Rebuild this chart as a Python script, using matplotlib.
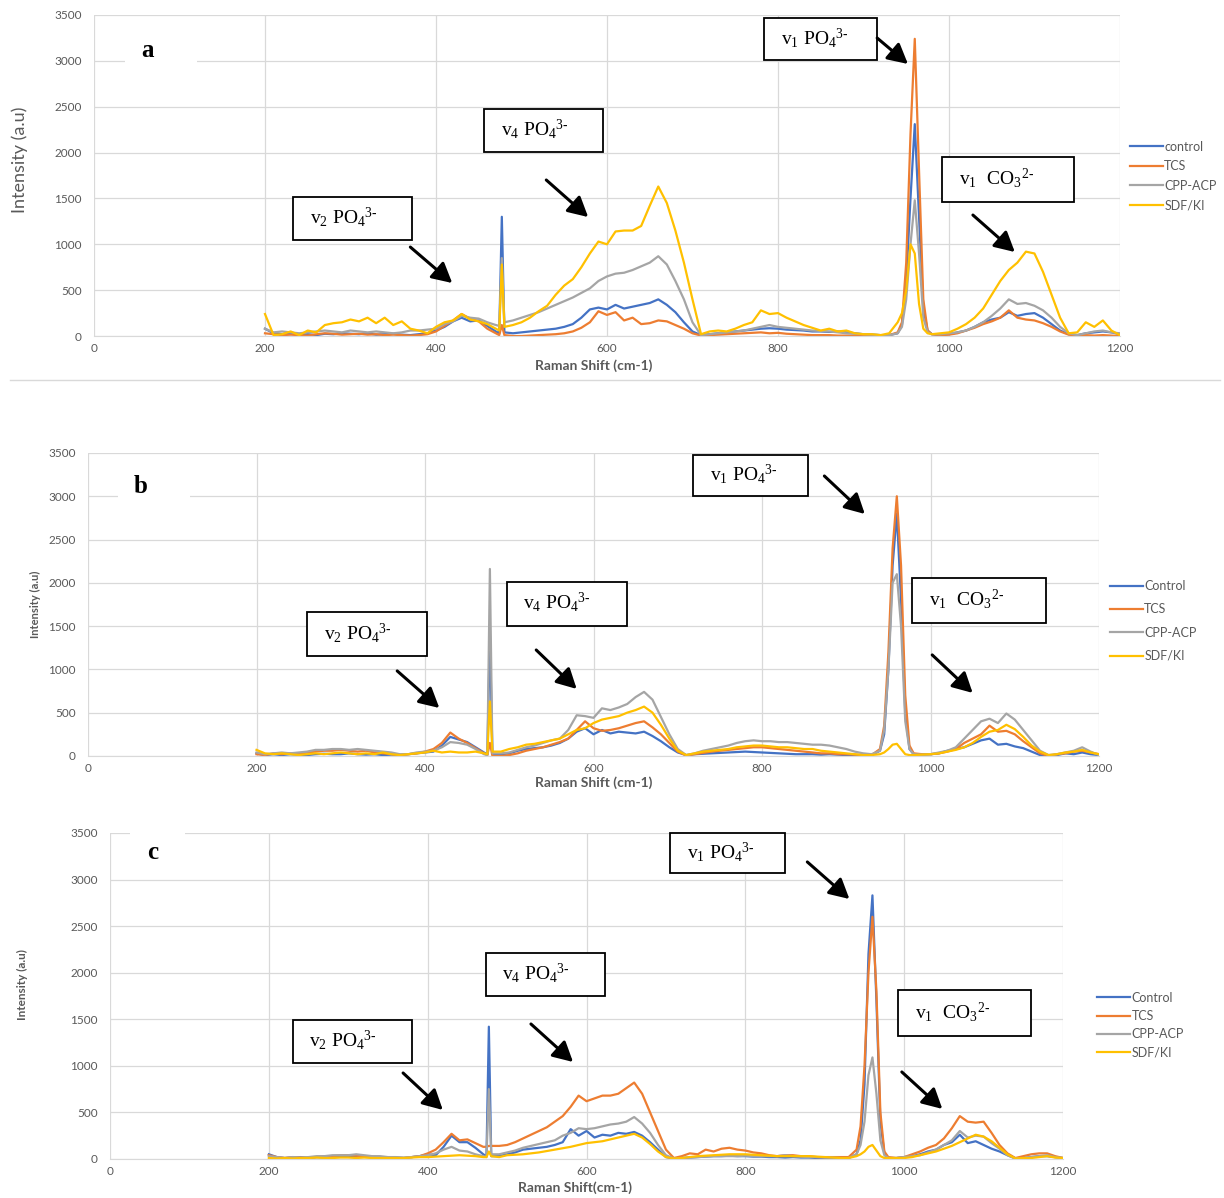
import matplotlib.pyplot as plt
from matplotlib.patches import Rectangle
from matplotlib.lines import Line2D

plt.rcParams['font.family'] = ['Lato', 'DejaVu Sans']
plt.rcParams['mathtext.fontset'] = 'custom'
plt.rcParams['mathtext.rm'] = 'Liberation Serif'

# Raman shift grid (cm-1), shared by every spectrum
shift = [200, 210, 220, 230, 240, 250, 260, 270, 280, 290,
         300, 310, 320, 330, 340, 350, 360, 370, 380, 390,
         400, 410, 420, 430, 440, 450, 460, 470, 474, 477,
         480, 490, 500, 510, 520, 530, 540, 550, 560, 570,
         580, 590, 600, 610, 620, 630, 640, 650, 660, 670,
         680, 690, 700, 710, 720, 730, 740, 750, 760, 770,
         780, 790, 800, 810, 820, 830, 840, 850, 860, 870,
         880, 890, 900, 910, 920, 930, 940, 945, 950, 955,
         960, 965, 970, 975, 980, 990, 1000, 1010, 1020, 1030,
         1040, 1050, 1060, 1070, 1080, 1090, 1100, 1110, 1120, 1130,
         1140, 1150, 1160, 1170, 1180, 1190, 1200]

# ---- panel a ----
a_control = [80, 30, 20, 30, 15, 20, 10, 25, 20, 30,
             25, 20, 30, 15, 20, 25, 15, 10, 20, 30,
             60, 100, 160, 200, 160, 170, 110, 50, 30, 1300,
             40, 30, 40, 50, 60, 70, 80, 100, 130, 200,
             290, 310, 290, 340, 300, 320, 340, 360, 400, 340,
             260, 150, 50, 10, 20, 30, 40, 50, 60, 70,
             80, 85, 80, 70, 65, 60, 50, 50, 45, 50,
             40, 30, 20, 15, 10, 10, 30, 120, 600, 1500,
             2310, 1300, 300, 60, 20, 10, 20, 40, 60, 100,
             150, 180, 200, 260, 220, 240, 250, 200, 130, 60,
             20, 10, 30, 40, 50, 40, 20]
a_tcs = [30, 20, 10, 15, 10, 5, 20, 30, 25, 15,
         20, 25, 15, 20, 10, 15, 10, 5, 10, 20,
         50, 110, 170, 240, 190, 160, 80, 30, 10, 120,
         10, 0, 0, 5, 10, 15, 20, 30, 50, 90,
         150, 270, 230, 260, 170, 200, 130, 140, 170, 160,
         120, 80, 30, 5, 10, 15, 20, 25, 30, 35,
         40, 30, 35, 25, 20, 15, 10, 10, 10, 5,
         5, 5, 5, 5, 5, 10, 40, 150, 800, 2200,
         3240, 1800, 400, 60, 20, 10, 15, 30, 60, 90,
         130, 160, 200, 280, 200, 180, 170, 140, 100, 50,
         15, 5, 10, 5, 10, 5, 0]
a_cpp = [80, 40, 50, 40, 30, 40, 50, 60, 50, 40,
         60, 50, 40, 50, 40, 30, 40, 60, 60, 70,
         80, 130, 160, 220, 200, 190, 150, 120, 110, 850,
         150, 170, 200, 230, 260, 300, 340, 380, 420, 470,
         520, 600, 650, 680, 690, 720, 760, 800, 870, 780,
         600, 400, 150, 10, 20, 30, 40, 50, 60, 80,
         100, 120, 100, 90, 80, 70, 60, 55, 50, 40,
         30, 25, 20, 15, 10, 10, 30, 100, 400, 1000,
         1480, 900, 200, 40, 20, 20, 30, 40, 60, 100,
         150, 220, 300, 400, 350, 360, 330, 280, 200, 100,
         30, 10, 30, 50, 60, 40, 30]
a_sdf = [240, 10, 20, 50, 10, 60, 40, 120, 140, 150,
         180, 160, 200, 140, 200, 120, 160, 80, 60, 30,
         100, 150, 170, 240, 180, 160, 130, 80, 60, 780,
         100, 120, 150, 200, 270, 330, 450, 550, 620, 750,
         900, 1030, 1000, 1140, 1150, 1150, 1200, 1420, 1630, 1450,
         1150, 800, 400, 20, 50, 60, 50, 80, 120, 150,
         280, 240, 250, 200, 160, 120, 90, 60, 80, 50,
         60, 30, 20, 20, 10, 30, 150, 250, 500, 1000,
         900, 350, 80, 30, 20, 30, 40, 80, 130, 200,
         300, 450, 600, 720, 800, 920, 900, 700, 450, 200,
         30, 40, 150, 100, 170, 60, 10]

# ---- panel b ----
b_control = [30, 10, 20, 10, 20, 15, 10, 20, 25, 20,
             20, 30, 20, 15, 20, 10, 15, 10, 20, 30,
             40, 50, 120, 220, 190, 160, 100, 40, 20, 1420,
             20, 20, 30, 60, 80, 90, 100, 120, 150, 200,
             280, 320, 250, 300, 260, 280, 270, 260, 280, 230,
             170, 100, 40, 10, 20, 25, 30, 35, 40, 45,
             50, 45, 40, 35, 30, 25, 20, 20, 20, 15,
             20, 15, 10, 10, 10, 10, 60, 250, 1000, 2200,
             2800, 1800, 500, 80, 20, 15, 20, 30, 60, 80,
             100, 140, 180, 200, 130, 140, 110, 90, 50, 10,
             0, 10, 30, 20, 40, 20, 10]
b_tcs = [20, 10, 30, 20, 30, 20, 40, 50, 60, 60,
         70, 60, 50, 60, 40, 30, 20, 10, 20, 30,
         50, 80, 150, 270, 200, 150, 90, 30, 10, 150,
         0, 0, 10, 30, 60, 80, 100, 130, 160, 200,
         300, 400, 320, 290, 300, 320, 350, 380, 400, 330,
         250, 150, 50, 5, 20, 35, 50, 60, 70, 80,
         90, 100, 100, 90, 80, 70, 60, 50, 40, 30,
         30, 20, 20, 15, 10, 10, 80, 350, 1200, 2400,
         3000, 2200, 700, 120, 30, 20, 20, 30, 50, 80,
         150, 200, 250, 350, 280, 290, 250, 170, 100, 30,
         0, 20, 30, 50, 60, 40, 20]
b_cpp = [40, 20, 30, 40, 30, 40, 50, 70, 70, 80,
         80, 70, 80, 70, 60, 50, 40, 20, 20, 40,
         50, 60, 100, 160, 150, 130, 80, 20, 10, 2160,
         30, 30, 40, 70, 100, 120, 150, 180, 200, 300,
         470, 460, 440, 550, 530, 560, 600, 680, 740, 650,
         450, 250, 80, 10, 30, 60, 80, 100, 120, 150,
         170, 180, 170, 170, 160, 160, 150, 140, 130, 130,
         120, 100, 80, 50, 30, 20, 60, 300, 1000, 2000,
         2100, 1500, 400, 80, 20, 15, 20, 40, 60, 100,
         200, 300, 400, 430, 380, 490, 420, 300, 180, 60,
         10, 20, 40, 60, 100, 50, 10]
b_sdf = [70, 30, 20, 30, 20, 10, 20, 30, 20, 30,
         40, 30, 20, 30, 20, 40, 20, 10, 20, 30,
         40, 60, 40, 50, 40, 40, 50, 30, 20, 630,
         50, 50, 80, 100, 130, 140, 160, 180, 200, 250,
         300, 320, 380, 420, 440, 460, 500, 530, 570, 500,
         360, 200, 60, 10, 30, 50, 60, 70, 80, 100,
         110, 120, 120, 110, 100, 100, 90, 80, 80, 60,
         50, 40, 30, 20, 10, 10, 20, 40, 80, 130,
         140, 80, 20, 10, 10, 15, 20, 30, 50, 70,
         100, 150, 220, 280, 300, 360, 310, 220, 120, 50,
         10, 20, 40, 50, 70, 40, 20]

# ---- panel c ----
c_control = [50, 20, 10, 15, 20, 10, 20, 15, 20, 25,
             30, 20, 25, 20, 15, 10, 15, 10, 20, 30,
             50, 40, 130, 250, 180, 180, 120, 50, 30, 1420,
             30, 30, 50, 70, 100, 110, 120, 130, 150, 180,
             320, 250, 300, 230, 260, 250, 280, 270, 290, 250,
             180, 100, 20, 5, 10, 15, 20, 25, 30, 30,
             35, 30, 30, 25, 25, 20, 20, 15, 20, 15,
             15, 10, 10, 10, 10, 10, 50, 200, 800, 2200,
             2830, 1700, 400, 60, 10, 10, 20, 30, 50, 80,
             100, 150, 180, 260, 170, 190, 150, 110, 80, 40,
             5, 10, 20, 30, 30, 20, 10]
c_tcs = [40, 20, 10, 20, 15, 10, 20, 30, 30, 40,
         40, 35, 30, 25, 20, 15, 10, 10, 20, 30,
         60, 100, 180, 270, 200, 210, 170, 130, 130, 140,
         140, 140, 150, 180, 220, 260, 300, 340, 400, 460,
         560, 680, 620, 650, 680, 680, 700, 760, 820, 700,
         500, 300, 100, 10, 30, 60, 50, 100, 80, 110,
         120, 100, 90, 70, 60, 40, 30, 40, 40, 30,
         30, 20, 20, 20, 20, 20, 100, 350, 1000, 2000,
         2600, 1800, 500, 80, 20, 10, 20, 50, 80, 120,
         150, 220, 330, 460, 400, 390, 400, 280, 150, 60,
         10, 30, 50, 60, 60, 30, 10]
c_cpp = [30, 20, 10, 20, 15, 20, 30, 30, 40, 40,
         40, 50, 40, 30, 30, 20, 20, 15, 20, 30,
         40, 60, 100, 130, 90, 80, 50, 30, 20, 750,
         50, 50, 70, 90, 120, 140, 160, 180, 200, 250,
         280, 330, 320, 330, 350, 370, 380, 400, 450, 380,
         280, 150, 40, 5, 10, 15, 20, 25, 30, 30,
         30, 30, 35, 30, 30, 30, 30, 40, 30, 25,
         20, 20, 15, 15, 10, 10, 50, 150, 400, 900,
         1090, 700, 200, 40, 10, 10, 20, 30, 40, 70,
         100, 150, 200, 300, 230, 250, 240, 170, 110, 40,
         5, 10, 20, 30, 40, 20, 10]
c_sdf = [10, 5, 10, 5, 10, 10, 15, 10, 10, 15,
         15, 10, 15, 10, 10, 10, 10, 10, 15, 20,
         20, 25, 30, 35, 40, 35, 30, 20, 20, 80,
         30, 20, 40, 45, 50, 60, 70, 85, 100, 115,
         130, 150, 170, 180, 190, 210, 230, 250, 270, 230,
         160, 80, 20, 5, 10, 20, 30, 35, 40, 45,
         50, 50, 50, 45, 40, 35, 30, 30, 30, 30,
         30, 25, 20, 15, 10, 10, 30, 50, 80, 130,
         150, 90, 30, 10, 10, 10, 10, 20, 40, 60,
         80, 110, 140, 180, 220, 260, 240, 190, 120, 50,
         5, 10, 10, 20, 30, 15, 10]

names_a = ['control', 'TCS', 'CPP-ACP', 'SDF/KI']
names_bc = ['Control', 'TCS', 'CPP-ACP', 'SDF/KI']
colors = ['#4472C4', '#ED7D31', '#A5A5A5', '#FFC000']

band_labels = ['$\\mathregular{v_2\\;PO_4{}^{3\u2010}}$', '$\\mathregular{v_4\\;PO_4{}^{3\u2010}}$',
               '$\\mathregular{v_1\\;PO_4{}^{3\u2010}}$', '$\\mathregular{v_1\\;\\;CO_3{}^{2\u2010}}$']

# box (x0, y0, x1, y1) and arrow (tail, head) for each band, data units
boxes_a = [(233, 1047, 372, 1516), (456, 2006, 595, 2475), (784, 3009, 916, 3467), (992, 1461, 1146, 1952)]
arrows_a = [((370, 970), (419, 578)), ((529, 1701), (578, 1297)), ((916, 3249), (952, 2966)), ((1028, 1319), (1077, 916))]
boxes_b = [(260, 1155, 402, 1663), (497, 1502, 640, 2010), (718, 3003, 855, 3477), (978, 1536, 1137, 2056)]
arrows_b = [((367, 982), (417, 554)), ((532, 1224), (580, 774)), ((874, 3234), (922, 2795)), ((1002, 1167), (1050, 728))]
boxes_c = [(230, 1031, 380, 1492), (473, 1750, 623, 2212), (705, 3070, 850, 3500), (992, 1321, 1160, 1814)]
arrows_c = [((369, 923), (419, 526)), ((530, 1449), (583, 1041)), ((878, 3189), (931, 2791)), ((997, 934), (1048, 537))]

fig = plt.figure(figsize=(12.24, 11.98), dpi=100)

panels = [
    dict(rect=[0.0768, 0.7195, 0.8382, 0.2680], data=[a_control, a_tcs, a_cpp, a_sdf], names=names_a,
         boxes=boxes_a, arrows=arrows_a, letter='a', letter_xy=(63, 3118), letter_bg=(36, 2870, 84, 430),
         xlabel='Raman Shift (cm-1)', xl=(0.487, -0.093), yl=(-0.072, 0.548), ysize=13, yweight='normal',
         leg=(1130 / 1224, 1 - 176 / 1198), legspace=0.6),
    dict(rect=[0.0719, 0.3690, 0.8260, 0.2529], data=[b_control, b_tcs, b_cpp, b_sdf], names=names_bc,
         boxes=boxes_b, arrows=arrows_b, letter='b', letter_xy=(63, 3107), letter_bg=(36, 2860, 85, 430),
         xlabel='Raman Shift (cm-1)', xl=(0.5, -0.089), yl=(-0.052, 0.50), ysize=8, yweight='bold',
         leg=(1110 / 1224, 1 - 621 / 1198), legspace=0.9),
    dict(rect=[0.0899, 0.0326, 0.7786, 0.2721], data=[c_control, c_tcs, c_cpp, c_sdf], names=names_bc,
         boxes=boxes_c, arrows=arrows_c, letter='c', letter_xy=(54, 3285), letter_bg=(25, 3150, 70, 420),
         xlabel='Raman Shift(cm-1)', xl=(0.488, -0.089), yl=(-0.092, 0.534), ysize=8.5, yweight='bold',
         leg=(1097 / 1224, 1 - 1025 / 1198), legspace=0.5),
]

for p in panels:
    ax = fig.add_axes(p['rect'])
    handles = []
    for ys, name, col in zip(p['data'], p['names'], colors):
        h, = ax.plot(shift, ys, color=col, lw=1.6, label=name, zorder=2)
        handles.append(h)

    ax.set_xlim(0, 1200)
    ax.set_ylim(0, 3500)
    ax.set_xticks(range(0, 1201, 200))
    ax.set_yticks(range(0, 3501, 500))
    ax.grid(True, color='#d9d9d9', lw=0.9)
    ax.set_axisbelow(True)
    for s in ['top', 'right', 'left']:
        ax.spines[s].set_visible(False)
    ax.spines['bottom'].set_color('#d9d9d9')
    ax.tick_params(length=0, labelsize=8.5, labelcolor='#595959')
    ax.tick_params(axis='x', pad=5)
    ax.tick_params(axis='y', pad=9)

    ax.set_xlabel(p['xlabel'], fontsize=10, fontweight='bold', color='#595959')
    ax.xaxis.set_label_coords(*p['xl'])
    ax.xaxis.label.set_va('center')
    ax.set_ylabel('Intensity (a.u)', fontsize=p['ysize'], fontweight=p['yweight'], color='#595959')
    ax.yaxis.set_label_coords(*p['yl'])
    ax.yaxis.label.set_va('center')

    # panel letter on a white patch
    bx, by, bw, bh = p['letter_bg']
    ax.add_patch(Rectangle((bx, by), bw, bh, facecolor='white', edgecolor='none', zorder=1, clip_on=False))
    ax.text(*p['letter_xy'], p['letter'], family='Liberation Serif', fontweight='bold', fontsize=18,
            ha='center', va='center', zorder=3)

    # band annotation boxes and arrows
    for (x0, y0, x1, y1), lab, (tail, head) in zip(p['boxes'], band_labels, p['arrows']):
        ax.add_patch(Rectangle((x0, y0), x1 - x0, y1 - y0, facecolor='white', edgecolor='black',
                               lw=1.3, zorder=5, clip_on=False))
        ax.annotate(lab, xy=(x0, (y0 + y1) / 2), xytext=(12, 1), textcoords='offset points',
                    fontsize=14, family='Liberation Serif', ha='left', va='center', zorder=6,
                    annotation_clip=False)
        ax.annotate('', xy=head, xytext=tail, annotation_clip=False, zorder=6,
                    arrowprops=dict(arrowstyle='-|>,head_length=0.6,head_width=0.32', color='black',
                                    lw=2.2, mutation_scale=20, shrinkA=0, shrinkB=0))

    fig.legend(handles=handles, loc='center left', bbox_to_anchor=p['leg'], frameon=False,
               fontsize=9, labelcolor='#595959', handlelength=2.6, handletextpad=0.15,
               labelspacing=p['legspace'], borderpad=0, borderaxespad=0)

# thin frame line under the first chart
fig.add_artist(Line2D([10 / 1224, 1220 / 1224], [1 - 380 / 1198] * 2, transform=fig.transFigure,
                      color='#d9d9d9', lw=1))

fig.savefig('out.png', dpi=100, facecolor='white')
